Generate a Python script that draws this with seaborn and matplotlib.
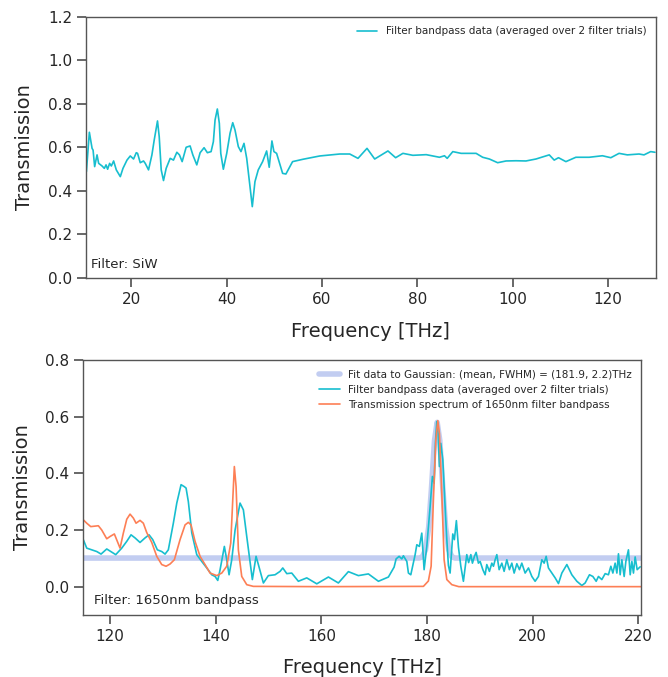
import matplotlib
matplotlib.use("Agg")
import matplotlib.pyplot as plt
import seaborn as sns
import numpy as np
import pandas as pd

# ---------------- data: top panel (SiW filter) ----------------
siw_freq = [10.59, 11.21, 11.78, 11.99, 12.32, 12.82, 13.16, 13.87, 14.35, 14.71, 15.04, 15.46,
            15.82, 16.3, 16.86, 17.7, 18.26, 19.1, 19.79, 20.48, 21.05, 21.32, 21.88, 22.57,
            22.93, 23.62, 24.33, 24.81, 25.5, 25.86, 26.28, 26.76, 27.32, 28.16, 28.85, 29.56,
            30.1, 30.67, 31.51, 32.34, 32.91, 33.74, 34.44, 35.27, 35.96, 36.74, 37.22, 37.57,
            38.05, 38.47, 38.77, 39.31, 40.02, 40.71, 41.28, 41.76, 42.45, 43.01, 43.64, 44.21,
            44.9, 45.38, 45.94, 46.63, 47.55, 48.39, 48.93, 49.5, 49.92, 50.48, 51.74, 52.43,
            53.83, 56.05, 59.54, 63.72, 65.82, 67.55, 69.44, 71.05, 73.83, 75.44, 76.97, 79.06,
            81.86, 84.64, 85.69, 86.26, 87.43, 89.18, 92.32, 93.7, 95.1, 96.84, 98.6, 100.69,
            102.78, 104.87, 107.66, 108.7, 109.6, 111.15, 113.24, 116.03, 118.81, 120.57, 122.3,
            124.04, 126.49, 127.53, 128.93, 129.83]
siw_trans = [0.489, 0.67, 0.596, 0.588, 0.512, 0.566, 0.527, 0.515, 0.504, 0.52, 0.50, 0.527,
             0.515, 0.538, 0.497, 0.466, 0.504, 0.542, 0.561, 0.547, 0.576, 0.573, 0.53, 0.538,
             0.527, 0.497, 0.566, 0.634, 0.722, 0.65, 0.497, 0.448, 0.504, 0.55, 0.542, 0.578,
             0.566, 0.535, 0.601, 0.607, 0.566, 0.52, 0.576, 0.599, 0.576, 0.581, 0.627, 0.726,
             0.777, 0.711, 0.573, 0.50, 0.573, 0.665, 0.714, 0.68, 0.604, 0.581, 0.619, 0.55,
             0.42, 0.328, 0.443, 0.497, 0.535, 0.584, 0.509, 0.63, 0.581, 0.573, 0.481, 0.478,
             0.535, 0.546, 0.561, 0.570, 0.570, 0.55, 0.596, 0.547, 0.584, 0.553, 0.573, 0.564,
             0.567, 0.555, 0.562, 0.55, 0.581, 0.573, 0.573, 0.555, 0.547, 0.53, 0.538, 0.539,
             0.538, 0.547, 0.566, 0.542, 0.553, 0.535, 0.555, 0.555, 0.562, 0.553, 0.573,
             0.566, 0.57, 0.566, 0.581, 0.578]

# ---------------- data: bottom panel (1650nm bandpass) ----------------
bp_freq = [114.9, 115.55, 116.5, 117.45, 118.26, 119.34, 120.28, 121.04, 122.18, 123.13, 123.94,
           124.7, 125.64, 126.59, 127.35, 128.05, 128.92, 129.75, 130.38, 131.0, 131.95, 132.6,
           133.41, 134.03, 134.36, 134.79, 135.44, 136.38, 137.33, 138.28, 139.22, 139.85, 140.36,
           140.8, 141.61, 142.06, 142.5, 143.01, 143.64, 144.58, 145.21, 145.85, 146.91, 147.61,
           148.05, 149.0, 149.94, 151.21, 152.16, 152.67, 153.43, 154.37, 155.62, 157.21, 159.11,
           161.31, 163.2, 165.09, 166.99, 168.88, 170.78, 172.67, 173.75, 174.13, 174.7, 175.21,
           175.51, 176.16, 176.46, 176.91, 177.73, 178.05, 178.54, 178.99, 179.43, 179.94, 180.57,
           181.0, 181.33, 181.57, 181.83, 182.08, 182.33, 182.59, 182.97, 183.41, 183.73, 184.03,
           184.35, 184.86, 185.16, 185.54, 185.93, 186.38, 186.87, 187.51, 187.86, 188.28, 188.58,
           188.96, 189.28, 189.71, 190.04, 190.55, 190.98, 191.3, 191.8, 192.25, 192.56, 192.88,
           193.2, 193.64, 194.15, 194.58, 195.09, 195.58, 196.04, 196.48, 196.99, 197.48, 197.93,
           198.56, 199.19, 199.83, 200.45, 201.08, 201.72, 202.16, 202.54, 202.97, 203.62, 204.24,
           204.87, 205.51, 206.46, 207.4, 208.35, 209.3, 209.92, 210.74, 211.38, 212.01, 212.44,
           213.08, 213.71, 214.33, 214.79, 215.17, 215.6, 215.93, 216.23, 216.55, 216.87, 217.31,
           217.63, 218.12, 218.45, 218.77, 219.07, 219.39, 219.77, 220.34]
bp_trans = [0.166, 0.136, 0.130, 0.124, 0.115, 0.133, 0.122, 0.113, 0.136, 0.16, 0.183,
            0.172, 0.156, 0.172, 0.183, 0.166, 0.13, 0.124, 0.115, 0.13, 0.224, 0.295,
            0.36, 0.353, 0.348, 0.30, 0.19, 0.113, 0.089, 0.066, 0.042, 0.036, 0.022,
            0.06, 0.142, 0.095, 0.042, 0.095, 0.20, 0.295, 0.271, 0.177, 0.025, 0.107,
            0.078, 0.013, 0.039, 0.042, 0.054, 0.066, 0.046, 0.048, 0.019, 0.031, 0.01,
            0.034, 0.013, 0.053, 0.039, 0.045, 0.019, 0.034, 0.069, 0.098, 0.107, 0.098,
            0.109, 0.089, 0.048, 0.042, 0.113, 0.148, 0.142, 0.189, 0.06, 0.142, 0.283,
            0.389, 0.365, 0.506, 0.583, 0.541, 0.424, 0.506, 0.448, 0.28, 0.166, 0.075,
            0.048, 0.186, 0.166, 0.233, 0.14, 0.072, 0.019, 0.113, 0.085, 0.113, 0.083,
            0.107, 0.121, 0.083, 0.089, 0.06, 0.042, 0.078, 0.054, 0.083, 0.072, 0.095,
            0.113, 0.06, 0.083, 0.054, 0.095, 0.06, 0.083, 0.048, 0.081, 0.06, 0.083,
            0.048, 0.066, 0.036, 0.019, 0.036, 0.095, 0.083, 0.107, 0.066, 0.048, 0.031,
            0.011, 0.048, 0.078, 0.042, 0.019, 0.004, 0.013, 0.042, 0.036, 0.019, 0.036,
            0.025, 0.046, 0.042, 0.072, 0.048, 0.083, 0.048, 0.116, 0.042, 0.095, 0.036,
            0.089, 0.13, 0.042, 0.089, 0.048, 0.105, 0.06, 0.07]

spec_freq = [114.9, 115.55, 116.31, 117.75, 118.39, 119.34, 119.96, 120.78, 121.86, 122.48, 123.13,
             123.75, 124.38, 124.89, 125.64, 126.27, 126.91, 127.86, 128.81, 129.75, 130.57,
             131.33, 132.14, 133.22, 134.17, 134.79, 135.3, 136.06, 137.01, 137.95, 138.9,
             140.17, 141.12, 142.06, 142.82, 143.2, 143.5, 143.83, 144.26, 144.9, 145.85,
             147.1, 160.0, 179.3, 180.24, 180.76, 181.19, 181.65, 182.03, 182.33, 182.78,
             183.22, 183.73, 184.68, 186.0, 220.5]
spec_trans = [0.236, 0.224, 0.212, 0.215, 0.20, 0.169, 0.177, 0.186, 0.136, 0.189, 0.238,
              0.256, 0.242, 0.224, 0.234, 0.224, 0.191, 0.156, 0.107, 0.078, 0.072,
              0.08, 0.095, 0.166, 0.218, 0.227, 0.218, 0.16, 0.107, 0.078, 0.048,
              0.039, 0.048, 0.072, 0.154, 0.307, 0.424, 0.353, 0.13, 0.036, 0.007,
              0.001, 0.0, 0.001, 0.02, 0.072, 0.307, 0.518, 0.586, 0.541, 0.33,
              0.095, 0.025, 0.007, 0.0, 0.0]

fit_freq = [114.9, 178.5, 179.1, 179.7, 180.3, 180.8, 181.4, 181.9, 182.4, 183.0, 183.5,
            184.1, 184.7, 185.3, 220.5]
fit_trans = [0.101, 0.101, 0.105, 0.13, 0.21, 0.34, 0.516, 0.58, 0.516, 0.34, 0.21,
             0.13, 0.105, 0.101, 0.101]

label_fit = "Fit data to Gaussian: (mean, FWHM) = (181.9, 2.2)THz"
label_data = "Filter bandpass data (averaged over 2 filter trials)"
label_spec = "Transmission spectrum of 1650nm filter bandpass"

# ---------------- style ----------------
sns.set_theme(style="ticks")
plt.rcParams["font.family"] = ["DejaVu Sans"]
edge = "#555555"
txt = "#262626"
plt.rcParams.update({
    "axes.edgecolor": edge,
    "axes.linewidth": 1.0,
    "xtick.color": edge,
    "ytick.color": edge,
    "xtick.labelcolor": txt,
    "ytick.labelcolor": txt,
    "xtick.major.size": 6.5,
    "ytick.major.size": 6.5,
    "xtick.labelsize": 11,
    "ytick.labelsize": 11,
    "axes.labelsize": 14,
    "axes.labelcolor": txt,
})

cyan = "#17becf"
orange = "#fd7f55"
fitc = "#c2cdf1"

fig = plt.figure(figsize=(6.68, 6.77), dpi=100)
ax1 = fig.add_axes([0.1287, 0.5894, 0.853, 0.3855])
ax2 = fig.add_axes([0.1243, 0.0916, 0.8353, 0.3766])

# top panel
df1 = pd.DataFrame({"f": siw_freq, "t": siw_trans})
sns.lineplot(data=df1, x="f", y="t", ax=ax1, color=cyan, lw=1.2, estimator=None,
             label=label_data)
ax1.set_xlim(10.5, 130)
ax1.set_ylim(0, 1.2)
ax1.set_yticks([0.0, 0.2, 0.4, 0.6, 0.8, 1.0, 1.2])
ax1.set_xticks([20, 40, 60, 80, 100, 120])
ax1.set_xlabel("Frequency [THz]", labelpad=11)
ax1.set_ylabel("Transmission", labelpad=10)
ax1.text(0.008, 0.025, "Filter: SiW", transform=ax1.transAxes, fontsize=9.5,
         color=txt, ha="left", va="bottom")
ax1.legend(loc="upper right", frameon=False, fontsize=7.5)

# bottom panel
dfit = pd.DataFrame({"f": fit_freq, "t": fit_trans})
dbp = pd.DataFrame({"f": bp_freq, "t": bp_trans})
dsp = pd.DataFrame({"f": spec_freq, "t": spec_trans})
sns.lineplot(data=dfit, x="f", y="t", ax=ax2, color=fitc, lw=4, estimator=None,
             label=label_fit)
sns.lineplot(data=dbp, x="f", y="t", ax=ax2, color=cyan, lw=1.2, estimator=None,
             label=label_data)
sns.lineplot(data=dsp, x="f", y="t", ax=ax2, color=orange, lw=1.2, estimator=None,
             label=label_spec)
ax2.set_xlim(114.85, 220.5)
ax2.set_ylim(-0.1, 0.8)
ax2.set_yticks([0.0, 0.2, 0.4, 0.6, 0.8])
ax2.set_xticks([120, 140, 160, 180, 200, 220])
ax2.set_xlabel("Frequency [THz]", labelpad=10)
ax2.set_ylabel("Transmission", labelpad=9)
ax2.text(0.02, 0.03, "Filter: 1650nm bandpass", transform=ax2.transAxes, fontsize=9.5,
         color=txt, ha="left", va="bottom")
ax2.legend(loc="upper right", frameon=False, fontsize=7.5)

for ax in (ax1, ax2):
    for s in ax.spines.values():
        s.set_visible(True)
        s.set_color(edge)

fig.savefig("out.png", dpi=100)
